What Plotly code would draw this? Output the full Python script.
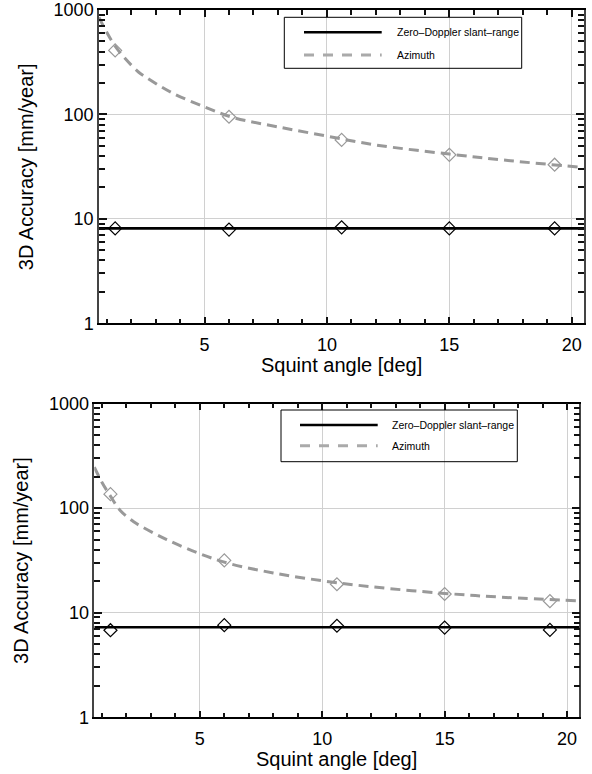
import plotly.graph_objects as go

# ---------------- data ----------------
squint_deg = [1.35, 6.0, 10.6, 15.0, 19.3]

# top panel
top_az_pts = [410, 95, 57, 41, 33]
top_zd_pts = [8.1, 7.9, 8.3, 8.1, 8.1]
top_zd_level = 8.1

# bottom panel
bot_az_pts = [136, 31.6, 18.7, 15.1, 12.9]
bot_zd_pts = [6.8, 7.6, 7.5, 7.2, 6.85]
bot_zd_level = 7.25

# azimuth curves
curve_x = [0.69, 1.0, 1.35, 1.75, 2.3, 2.6, 3.65, 5.0, 6.2, 8.0, 10.0, 12.0, 15.0, 17.5, 20.5]
top_az_curve = [850, 615, 450, 345, 255, 228, 162, 118, 93, 76, 62, 51, 41.7, 36, 31]
bot_az_curve = [246, 177, 130, 95, 74, 67, 50, 36.6, 29.5, 24, 20.2, 17.7, 15.3, 14.0, 13.0]

x_tick_step = 5          # major x ticks: 5, 10, 15, 20
x_range = [0.69, 20.5]
y_decades = [0, 3]       # log axis from 1 to 1000 -> labels 1, 10, 100, 1000

legend_labels = ["Zero\u2013Doppler slant\u2013range", "Azimuth"]
x_title = "Squint angle [deg]"
y_title = "3D Accuracy [mm/year]"

# ---------------- figure ----------------
W, H = 592, 774
FONT = "Liberation Sans, Arial, sans-serif"
GREY = "#999999"
DASH = "10px,6px"

def px(x):
    return x / W

def py(y):
    return 1 - y / H

fig = go.Figure()

panels = [
    dict(xa="x", ya="y", az_pts=top_az_pts, zd_pts=top_zd_pts, zd=top_zd_level, az=top_az_curve,
         xdom=[px(99), px(584)], ydom=[py(323.3), py(10)],
         leg_box=(284.3, 17.3, 521.7, 68.3), leg_rows=(32.3, 55.0), leg_line=(304, 381.7), leg_text=395,
         xt_y=365, yt_x=25.5),
    dict(xa="x2", ya="y2", az_pts=bot_az_pts, zd_pts=bot_zd_pts, zd=bot_zd_level, az=bot_az_curve,
         xdom=[px(94.3), px(579.3)], ydom=[py(717.3), py(403.5)],
         leg_box=(281, 410, 517.3, 461.7), leg_rows=(425.0, 445.7), leg_line=(300, 377.7), leg_text=390,
         xt_y=759, yt_x=21.5),
]

annotations = []
shapes = []

for i, p in enumerate(panels):
    # zero-Doppler line
    fig.add_trace(go.Scatter(x=[curve_x[0], curve_x[-1]], y=[p["zd"], p["zd"]], mode="lines",
                             line=dict(color="black", width=2.6), xaxis=p["xa"], yaxis=p["ya"],
                             name=legend_labels[0], showlegend=False))
    # azimuth curve
    fig.add_trace(go.Scatter(x=curve_x, y=p["az"], mode="lines",
                             line=dict(color=GREY, width=3, dash=DASH, shape="spline", smoothing=1.0),
                             xaxis=p["xa"], yaxis=p["ya"], name=legend_labels[1], showlegend=False))
    # markers
    fig.add_trace(go.Scatter(x=squint_deg, y=p["az_pts"], mode="markers",
                             marker=dict(symbol="diamond-open", size=10, color=GREY, line=dict(width=1.2, color=GREY)),
                             xaxis=p["xa"], yaxis=p["ya"], showlegend=False, cliponaxis=False))
    fig.add_trace(go.Scatter(x=squint_deg, y=p["zd_pts"], mode="markers",
                             marker=dict(symbol="diamond-open", size=10, color="black", line=dict(width=1.2, color="black")),
                             xaxis=p["xa"], yaxis=p["ya"], showlegend=False, cliponaxis=False))

    sfx = "" if i == 0 else "2"
    fig.update_layout(**{
        "xaxis" + sfx: dict(domain=p["xdom"], range=x_range, anchor=p["ya"],
                            tickmode="linear", tick0=0, dtick=x_tick_step,
                            ticks="inside", ticklen=7, tickwidth=1.5,
                            tickcolor="#111111", showline=True, linecolor="black", linewidth=1.5, mirror="ticks",
                            showgrid=True, gridcolor="#d0d0d0", gridwidth=1.4, zeroline=False,
                            ticklabelstandoff=4,
                            tickfont=dict(family=FONT, size=18, color="black"),
                            minor=dict(tick0=0, dtick=1, ticks="inside", ticklen=5,
                                       tickwidth=1.5, tickcolor="#111111", showgrid=False),
                            automargin=False),
        "yaxis" + sfx: dict(domain=p["ydom"], type="log", range=y_decades, anchor=p["xa"],
                            tickmode="linear", tick0=0, dtick=1, exponentformat="none",
                            ticks="inside", ticklen=8, tickwidth=1.5, tickcolor="#111111",
                            showline=True, linecolor="#444444", linewidth=1.5, mirror="ticks",
                            showgrid=True, gridcolor="#d0d0d0", gridwidth=1.4, zeroline=False,
                            tickfont=dict(family=FONT, size=18, color="black"),
                            minor=dict(dtick="D1", ticks="inside", ticklen=6,
                                       tickwidth=1.5, tickcolor="#111111", showgrid=False),
                            automargin=False),
    })

    # axis titles
    xc = (p["xdom"][0] + p["xdom"][1]) / 2
    yc = (p["ydom"][0] + p["ydom"][1]) / 2
    annotations.append(dict(text=x_title, x=xc, y=py(p["xt_y"]), xref="paper", yref="paper",
                            xanchor="center", yanchor="middle", showarrow=False,
                            font=dict(family=FONT, size=20, color="black")))
    annotations.append(dict(text=y_title, x=px(p["yt_x"]), y=yc, xref="paper", yref="paper",
                            xanchor="center", yanchor="middle", showarrow=False, textangle=-90,
                            font=dict(family=FONT, size=20, color="black")))

    # legend box
    x0, y0, x1, y1 = p["leg_box"]
    shapes.append(dict(type="rect", xref="paper", yref="paper", x0=px(x0), x1=px(x1), y0=py(y1), y1=py(y0),
                       line=dict(color="black", width=1), fillcolor="rgba(0,0,0,0)", layer="above"))
    lx0, lx1 = p["leg_line"]
    r1, r2 = p["leg_rows"]
    shapes.append(dict(type="line", xref="paper", yref="paper", x0=px(lx0), x1=px(lx1), y0=py(r1), y1=py(r1),
                       line=dict(color="black", width=2.6)))
    shapes.append(dict(type="line", xref="paper", yref="paper", x0=px(lx0), x1=px(lx1), y0=py(r2), y1=py(r2),
                       line=dict(color="#aaaaaa", width=3, dash="10px,9px")))
    for lab, r in zip(legend_labels, (r1, r2)):
        annotations.append(dict(text=lab, x=px(p["leg_text"]), y=py(r), xref="paper", yref="paper",
                                xanchor="left", yanchor="middle", showarrow=False,
                                font=dict(family=FONT, size=10.5, color="black")))

fig.update_layout(width=W, height=H, margin=dict(l=0, r=0, t=0, b=0),
                  paper_bgcolor="white", plot_bgcolor="white", showlegend=False,
                  annotations=annotations, shapes=shapes)

fig.write_html("out.html", config={"displayModeBar": False},
               post_script="document.body.style.margin='0';document.body.style.padding='0';"
                           "document.documentElement.style.overflow='hidden';")
